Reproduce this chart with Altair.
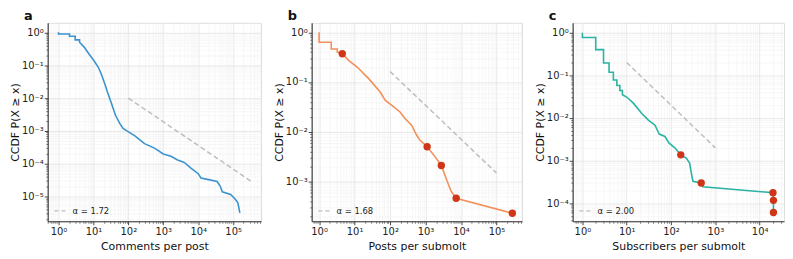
import math
import altair as alt
import pandas as pd

# ---------------- data ----------------
# Panel a: comments per post
a_x = [1, 1, 2.06, 2.06, 3.0, 3.0, 4.0, 4.0, 5.5, 7.45, 9.9, 13.7, 17, 21.2, 25.3, 32.9, 42.7, 56.7,
       70.5, 98, 151, 290, 560, 1000, 1660, 2580, 4000, 6200, 10000, 12000, 20000, 35000, 42600,
       49000, 85000, 117000, 137000, 156000]
a_y = [1.0, 0.89, 0.89, 0.76, 0.76, 0.59, 0.59, 0.50, 0.35, 0.22, 0.146, 0.088, 0.052, 0.027, 0.015,
       0.0068, 0.003, 0.0017, 0.0012, 0.00095, 0.00072, 0.00041, 0.0003, 0.0002, 0.00017, 0.00013,
       0.00011, 0.000074, 0.00005, 0.000037, 0.000033, 0.000029, 0.000021, 0.000014, 0.0000117,
       0.0000082, 0.0000065, 0.0000032]
a_ref_x = [100, 316000]
a_ref_y = [0.01, 0.000030]
a_alpha = "α = 1.72"

# Panel b: posts per submolt
b_x = [1, 1, 2.2, 2.2, 3.25, 3.25, 4.5, 6.9, 11.8, 25, 52.7, 72.6, 112, 191, 263, 405, 558, 692, 1110,
       1820, 2790, 4100, 5300, 7300, 280000]
b_y = [1.0, 0.63, 0.63, 0.46, 0.46, 0.40, 0.37, 0.27, 0.20, 0.117, 0.063, 0.043, 0.034, 0.025, 0.0185,
       0.0136, 0.0086, 0.0068, 0.005, 0.0032, 0.0021, 0.001, 0.00063, 0.00046, 0.00023]
b_mark_x = [4.5, 1110, 2790, 7300, 280000]
b_mark_y = [0.37, 0.005, 0.0021, 0.00046, 0.00023]
b_ref_x = [100, 100000]
b_ref_y = [0.163, 0.00148]
b_alpha = "α = 1.68"

# Panel c: subscribers per submolt
c_x = [1, 1, 2, 2, 3, 3, 4, 4, 5, 5, 6, 6, 7, 7, 8, 8, 10, 14.3, 21.9, 30.9, 43.5, 54.3, 72.7, 89.6, 122,
       166, 221, 263, 287, 312, 480, 522, 20000, 20500, 20500]
c_y = [1.0, 0.77, 0.77, 0.40, 0.40, 0.194, 0.194, 0.118, 0.118, 0.078, 0.078, 0.058, 0.058, 0.044,
       0.044, 0.035, 0.031, 0.022, 0.0127, 0.0089, 0.0068, 0.0042, 0.0037, 0.0026, 0.002, 0.00137,
       0.00115, 0.00088, 0.00052, 0.00033, 0.0003, 0.000244, 0.000178, 0.000118, 0.000061]
c_mark_x = [166, 480, 20000, 20500, 20500]
c_mark_y = [0.00137, 0.0003, 0.000178, 0.000118, 0.000061]
c_ref_x = [10, 1000]
c_ref_y = [0.2, 0.002]
c_alpha = "α = 2.00"

FONT = "DejaVu Sans"
MAJ = "abs(log(datum.value)/LN10 - round(log(datum.value)/LN10)) < 0.001"
SUP = "['10⁻⁶','10⁻⁵','10⁻⁴','10⁻³','10⁻²','10⁻¹','10⁰','10¹','10²','10³','10⁴','10⁵','10⁶']"
LABEL_EXPR = f"({MAJ}) ? {SUP}[round(log(datum.value)/LN10)+6] : ''"


def tick_values(lo, hi):
    vals = []
    for e in range(math.floor(math.log10(lo)) - 1, math.ceil(math.log10(hi)) + 1):
        for m in range(1, 10):
            v = m * 10.0 ** e
            if lo <= v <= hi:
                vals.append(v)
    return vals


def make_axis(lo, hi, title, label_pad, title_pad):
    return alt.Axis(
        values=tick_values(lo, hi),
        labelExpr=LABEL_EXPR,
        title=title,
        tickSize={"condition": {"test": MAJ, "value": 3.5}, "value": 2},
        tickWidth={"condition": {"test": MAJ, "value": 0.9}, "value": 0.6},
        gridColor={"condition": {"test": MAJ, "value": "#e3e3e3"}, "value": "#f2f2f2"},
        gridWidth={"condition": {"test": MAJ, "value": 0.8}, "value": 0.6},
        grid=True,
        domainColor="#333333",
        domainWidth=1.1,
        tickColor="#333333",
        labelFont=FONT,
        labelFontSize=10,
        labelColor="#222222",
        labelPadding=label_pad,
        labelFlush=False,
        labelOverlap=False,
        titleFont=FONT,
        titleFontSize=11,
        titleFontWeight="normal",
        titleColor="#111111",
        titlePadding=title_pad,
    )


def panel(xs, ys, ref_x, ref_y, alpha_label, color, xdom, ydom, xtitle, letter, width,
          mx=None, my=None):
    X = alt.X("x:Q", scale=alt.Scale(type="log", domain=xdom, nice=False),
              axis=make_axis(xdom[0], xdom[1], xtitle, 2, 4))
    Y = alt.Y("y:Q", scale=alt.Scale(type="log", domain=ydom, nice=False),
              axis=make_axis(ydom[0], ydom[1], "CCDF P(X ≥ x)", 1, 1))
    ref_df = pd.DataFrame({"x": ref_x, "y": ref_y, "label": [alpha_label] * len(ref_x)})
    ref = alt.Chart(ref_df).mark_line(strokeDash=[5, 3], strokeWidth=1.5, clip=True).encode(
        x=X, y=Y,
        color=alt.Color("label:N", scale=alt.Scale(range=["#bdbdbd"]),
                        legend=alt.Legend(orient="bottom-left", title=None, symbolType="stroke",
                                          symbolDash=[4, 3], symbolStrokeWidth=1.5, symbolSize=180,
                                          labelFont=FONT, labelFontSize=8.5, labelColor="#222222",
                                          offset=4, padding=2)),
    )
    line = alt.Chart(pd.DataFrame({"x": xs, "y": ys})).mark_line(
        color=color, strokeWidth=1.6, clip=True).encode(x=X, y=Y)
    layers = [ref, line]
    if mx is not None:
        pts = alt.Chart(pd.DataFrame({"x": mx, "y": my})).mark_circle(
            color="#cf3517", size=55, opacity=1).encode(x=X, y=Y)
        layers.append(pts)
    return alt.layer(*layers).properties(
        width=width, height=200,
        title=alt.TitleParams(letter, anchor="start", frame="group", dx=-24, fontSize=13,
                              fontWeight="bold", font=FONT, color="#111111", offset=0),
    )


pa = panel(a_x, a_y, a_ref_x, a_ref_y, a_alpha, "#3b93d0",
           [10 ** -0.31, 10 ** 5.8], [10 ** -5.75, 10 ** 0.29], "Comments per post", "a", 215)
pb = panel(b_x, b_y, b_ref_x, b_ref_y, b_alpha, "#f38f59",
           [10 ** -0.21, 10 ** 5.72], [10 ** -3.8, 10 ** 0.19], "Posts per submolt", "b", 212,
           b_mark_x, b_mark_y)
pc = panel(c_x, c_y, c_ref_x, c_ref_y, c_alpha, "#2ab3a2",
           [10 ** -0.22, 10 ** 4.55], [10 ** -4.42, 10 ** 0.23], "Subscribers per submolt", "c", 213,
           c_mark_x, c_mark_y)

chart = alt.hconcat(pa, pb, pc, spacing=51, bounds="flush").resolve_scale(
    color="independent").properties(padding=0).configure_view(stroke=None).configure(
    background="white")

chart.save("out.html", embed_options={"renderer": "svg", "actions": False})
